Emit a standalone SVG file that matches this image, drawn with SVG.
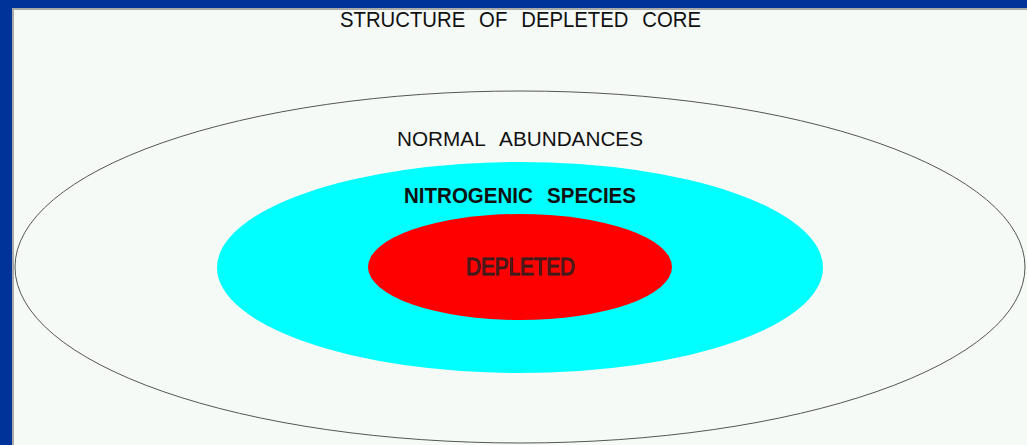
<svg xmlns="http://www.w3.org/2000/svg" width="1027" height="445" viewBox="0 0 1027 445">
<style>
.lbl{font-family:"Liberation Sans",Arial,sans-serif;fill:#111;text-anchor:middle;word-spacing:9px}
</style>
<rect x="0" y="0" width="1027" height="445" fill="#003399"/>
<rect x="12" y="8" width="1015" height="437" fill="#a8aaa8"/>
<rect x="14" y="10" width="1013" height="435" fill="#f6faf7"/>
<text class="lbl" x="520.5" y="27" font-size="22" textLength="361" lengthAdjust="spacingAndGlyphs">STRUCTURE OF DEPLETED CORE</text>
<g id="outer">
<ellipse cx="520" cy="267" rx="505" ry="176" fill="none" stroke="#555" stroke-width="1"/>
<text class="lbl" x="520" y="146" font-size="19.5" textLength="246" lengthAdjust="spacingAndGlyphs">NORMAL ABUNDANCES</text>
</g>
<g id="nitrogenic">
<ellipse cx="520" cy="267.5" rx="303" ry="105.5" fill="#00ffff"/>
<text class="lbl" x="520" y="203" font-size="22" font-weight="bold" textLength="232" lengthAdjust="spacingAndGlyphs">NITROGENIC SPECIES</text>
</g>
<g id="depleted">
<ellipse cx="520" cy="267" rx="152" ry="53" fill="#ff0000"/>
<text class="lbl" x="520.5" y="275" font-size="23.5" stroke="#222" stroke-width="1" textLength="109" lengthAdjust="spacingAndGlyphs" style="fill:#701010">DEPLETED</text>
</g>
</svg>
